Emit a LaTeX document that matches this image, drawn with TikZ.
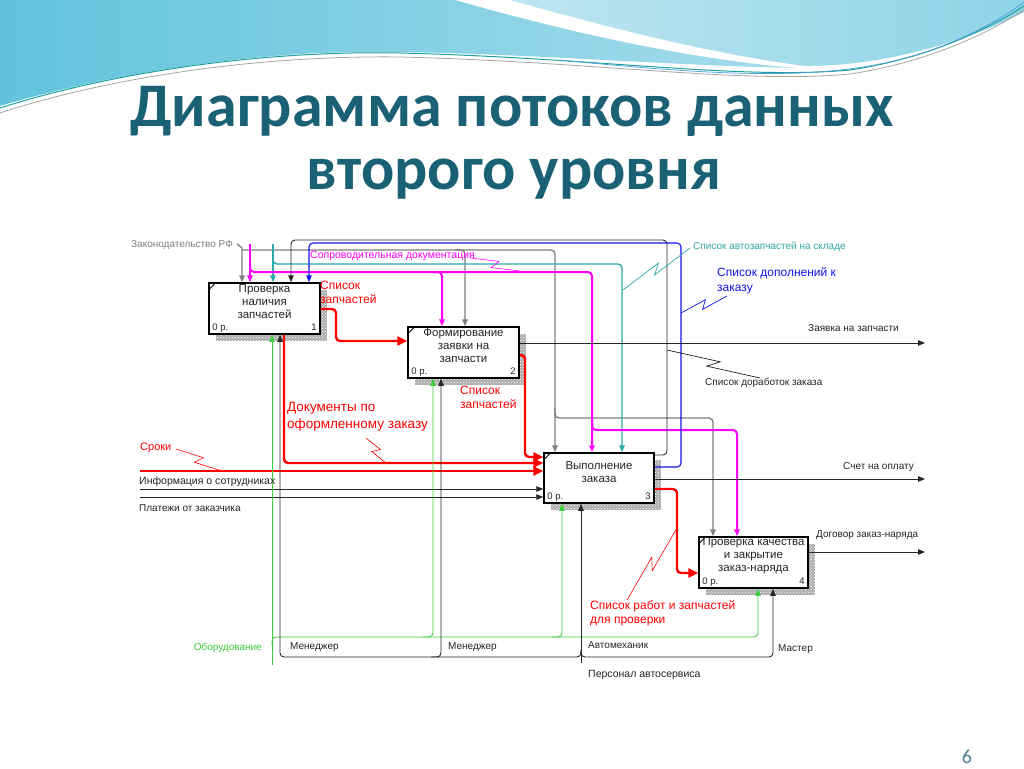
\documentclass[tikz,border=0pt]{standalone}
\usepackage{fontspec}
\setmainfont{Liberation Sans}
\newfontfamily\ttlfont{Carlito}
\usetikzlibrary{arrows.meta,calc,patterns}
\definecolor{ttl}{HTML}{1B6175}
\definecolor{mg}{HTML}{FF00FF}
\definecolor{tl}{HTML}{2FA8A8}
\definecolor{bl}{HTML}{1414E6}
\definecolor{rd}{HTML}{FF0000}
\definecolor{gr}{HTML}{3FCC3F}
\definecolor{gy}{HTML}{7F7F7F}
\definecolor{wvA}{HTML}{62C3DC}
\definecolor{wvB}{HTML}{A6DCEB}
\definecolor{wvC}{HTML}{BFE6F0}
\definecolor{wvD}{HTML}{8ED3E6}
\definecolor{wline}{HTML}{1FA39A}
\newcommand\zzl[3]{\draw[#1] (#2) -- ($(#2)!0.56!(#3)!4pt!90:(#3)$) -- ($(#2)!0.44!(#3)!4pt!-90:(#3)$) -- (#3);}
\tikzset{
  arw/.style={-{Triangle[length=7pt,width=5.5pt]}},
  rarw/.style={-{Triangle[length=10pt,width=9pt]}},
  rc/.style={rounded corners=4pt},
  redl/.style={draw=rd, line width=2.4pt},
  mgl/.style={draw=mg, line width=2pt},
  gyl/.style={draw=gy, line width=1.4pt},
  tll/.style={draw=tl, line width=1.4pt},
  bll/.style={draw=bl, line width=1.1pt},
  grl/.style={draw=gr, line width=0.9pt},
  bkl/.style={draw=black!85, line width=0.9pt},
  box/.style={draw=black, line width=1.5pt, fill=white, inner sep=0, minimum width=#1},
  btxt/.style={align=center, font=\fontsize{11.5}{13}\selectfont, inner sep=0, text=black!85},
  idx/.style={font=\fontsize{9.5}{11}\selectfont, inner sep=0, text=black!85},
  lbl/.style={font=\fontsize{10}{12}\selectfont, inner sep=0, anchor=west, text=black!85},
  rlbl/.style={font=\fontsize{12}{14}\selectfont, inner sep=0, anchor=north west, align=left, text=rd},
  shd/.style={pattern=crosshatch dots, pattern color=white},
}
\begin{document}
\begin{tikzpicture}[x=1pt,y=-1pt]
\useasboundingbox (0,0) rectangle (1024,768);
\fill[white] (0,0) rectangle (1024,768);
% ---- waves
\shade[left color=wvA, right color=wvB] (0,0) -- (455,0) .. controls (560,30) and (680,58) .. (795,68)
  .. controls (620,64) and (440,46) .. (300,54) .. controls (180,62) and (70,85) .. (0,106) -- cycle;
\shade[left color=wvC, right color=wvD] (510,0) -- (1024,0) -- (1024,12) .. controls (965,42) and (885,66) .. (805,66)
  .. controls (700,52) and (600,25) .. (510,0) -- cycle;
\draw[wline, line width=1pt] (0,108) .. controls (100,76) and (250,50) .. (400,53) .. controls (600,58) and (740,80) .. (850,70) .. controls (930,58) and (990,28) .. (1024,6);
\draw[gray!70, line width=0.8pt] (0,113) .. controls (100,80) and (250,55) .. (400,57) .. controls (600,62) and (740,84) .. (850,74) .. controls (930,62) and (990,32) .. (1024,10);
\draw[wvA!80!blue, line width=0.7pt] (560,60) .. controls (700,74) and (800,80) .. (880,64) .. controls (950,50) and (1000,20) .. (1024,2);
% ---- title
\node[anchor=base, text=ttl, font=\ttlfont\bfseries\fontsize{62}{70}\selectfont] (title1) at (512,126) {Диаграмма потоков данных};
\node[anchor=base, text=ttl, font=\ttlfont\bfseries\fontsize{62}{70}\selectfont] (title2) at (514,189) {второго уровня};
\node[text=ttl!80, font=\ttlfont\fontsize{20}{22}\selectfont, inner sep=0] (pnum) at (967,757) {6};
% ---- shadows
\foreach \sx/\sy/\ex/\ey in {216/290/327/341, 415/334/526/385, 551/460/661/510, 706/544/815/595}{
  \fill[gray!65] (\sx,\sy) rectangle (\ex,\ey);
  \fill[shd] (\sx,\sy) rectangle (\ex,\ey);
}
% ---- boxes
\node[box=111pt, minimum height=51pt] (b1) at (264.5,308.5) {};
\node[box=111pt, minimum height=51pt] (b2) at (463.5,352.5) {};
\node[box=110pt, minimum height=50pt] (b3) at (599,478) {};
\node[box=109pt, minimum height=51pt] (b4) at (753.5,562.5) {};
\foreach \b in {b1,b2,b3,b4}{
  \draw[line width=0.8pt] ($(\b.north west)+(1,7)$) -- ($(\b.north west)+(7,1)$);
}
\node[btxt] (t1) at (264.5,302) {Проверка\\наличия\\запчастей};
\node[btxt] (t2) at (463.5,346) {Формирование\\заявки на\\запчасти};
\node[btxt] (t3) at (599,472) {Выполнение\\заказа};
\node[btxt] (t4) at (753.5,556) {Проверка качества\\и закрытие\\заказ-наряда};
\node[idx, anchor=base west] (p1) at ($(b1.south west)+(4,-4)$) {0 р.};
\node[idx, anchor=base east] (n1) at ($(b1.south east)+(-4,-4)$) {1};
\node[idx, anchor=base west] (p2) at ($(b2.south west)+(4,-4)$) {0 р.};
\node[idx, anchor=base east] (n2) at ($(b2.south east)+(-4,-4)$) {2};
\node[idx, anchor=base west] (p3) at ($(b3.south west)+(4,-4)$) {0 р.};
\node[idx, anchor=base east] (n3) at ($(b3.south east)+(-4,-4)$) {3};
\node[idx, anchor=base west] (p4) at ($(b4.south west)+(4,-4)$) {0 р.};
\node[idx, anchor=base east] (n4) at ($(b4.south east)+(-4,-4)$) {4};
% ---- coordinates
\coordinate (g0) at (237,244); \coordinate (g1) at (242,248); \coordinate (g2) at (242,250);
\coordinate (g3a) at (455,250); \coordinate (g3) at (465,250); \coordinate (g4) at (555,250);
\coordinate (g5a) at (555,408); \coordinate (g5) at (555,418); \coordinate (g6) at (713,418);
\coordinate (m0) at (250,244); \coordinate (m1a) at (250,262); \coordinate (m1) at (250,272);
\coordinate (m2) at (592,272); \coordinate (m3a) at (432,272); \coordinate (m3) at (442,272);
\coordinate (m4a) at (592,420); \coordinate (m4) at (592,430); \coordinate (m5) at (737,430);
\coordinate (c0) at (273,244); \coordinate (c1a) at (273,254); \coordinate (c1) at (273,264); \coordinate (c2) at (622,264);
\coordinate (k1) at (667,455); \coordinate (k2) at (667,240); \coordinate (k3) at (291,240);
\coordinate (u1) at (681,467); \coordinate (u2) at (681,243); \coordinate (u3) at (309,243);
\coordinate (r1a) at (336,309); \coordinate (r1b) at (336,341);
\coordinate (r2a) at (525,355); \coordinate (r2b) at (525,457);
\coordinate (r3) at (284,463);
\coordinate (s0) at (140,471); \coordinate (i0) at (140,489); \coordinate (q0) at (140,497);
\coordinate (o2) at (925,343); \coordinate (o3) at (925,479); \coordinate (o4) at (925,552);
\coordinate (r5a) at (677,489); \coordinate (r5b) at (677,573);
\coordinate (e0) at (272,665); \coordinate (e1a) at (272,645); \coordinate (e1) at (272,637);
\coordinate (e2a) at (423,637); \coordinate (e2) at (433,637); \coordinate (e3a) at (552,637); \coordinate (e3) at (562,637);
\coordinate (e4) at (758,637);
\coordinate (h0) at (581,663); \coordinate (h1a) at (581,650); \coordinate (h1) at (581,657);
\coordinate (h2) at (280,657); \coordinate (h3a) at (431,657); \coordinate (h3) at (441,657); \coordinate (h4) at (773,657);
% ---- gray (Законодательство РФ)
\draw[gyl,arw] (g0) -- (g1) -- (g1 |- b1.north);
\draw[gyl,arw,rc] (g2) -- (g4) -- (g4 |- b3.north);
\draw[gyl,arw,rc] (g3a) -- (g3) -- (g3 |- b2.north);
\draw[gyl,arw,rc] (g5a) -- (g5) -- (g6) -- (g6 |- b4.north);
% ---- teal
\draw[tll,arw] (c0) -- (c0 |- b1.north);
\draw[tll,arw,rc] (c1a) -- (c1) -- (c2) -- (c2 |- b3.north);
% ---- magenta
\draw[mgl,arw] (m0) -- (m0 |- b1.north);
\draw[mgl,arw,rc] (m1a) -- (m1) -- (m2) -- (m2 |- b3.north);
\draw[mgl,arw,rc] (m3a) -- (m3) -- (m3 |- b2.north);
\draw[mgl,arw,rc] (m4a) -- (m4) -- (m5) -- (m5 |- b4.north);
% ---- black loop and blue loop
\draw[bkl,arw,rc] (k1 -| b3.east) -- (k1) -- (k2) -- (k3) -- (k3 |- b1.north);
\draw[bll,arw,rc] (u1 -| b3.east) -- (u1) -- (u2) -- (u3) -- (u3 |- b1.north);
% ---- red flows
\draw[redl,rarw,rc] (r1a -| b1.east) -- (r1a) -- (r1b) -- (r1b -| b2.west);
\draw[redl,rarw,rc] (r2a -| b2.east) -- (r2a) -- (r2b) -- (r2b -| b3.west);
\draw[redl,rarw,rc] (r3 |- b1.south) -- (r3) -- (r3 -| b3.west);
\draw[redl,rarw] (s0) -- (s0 -| b3.west);
\draw[redl,rarw,rc] (r5a -| b3.east) -- (r5a) -- (r5b) -- (r5b -| b4.west);
% ---- black inputs / outputs
\draw[bkl,arw] (i0) -- (i0 -| b3.west);
\draw[bkl,arw] (q0) -- (q0 -| b3.west);
\draw[bkl,arw] (o2 -| b2.east) -- (o2);
\draw[bkl,arw] (o3 -| b3.east) -- (o3);
\draw[bkl,arw] (o4 -| b4.east) -- (o4);
% ---- green mechanism
\draw[grl,arw] (e0) -- (e0 |- b1.south);
\draw[grl,arw,rc] (e1a) -- (e1) -- (e4) -- (e4 |- b4.south);
\draw[grl,arw,rc] (e2a) -- (e2) -- (e2 |- b2.south);
\draw[grl,arw,rc] (e3a) -- (e3) -- (e3 |- b3.south);
% ---- black mechanism
\draw[bkl,arw] (h0) -- (h0 |- b3.south);
\draw[bkl,arw,rc] (h1a) -- (h1) -- (h2) -- (h2 |- b1.south);
\draw[bkl,arw,rc] (h3a) -- (h3) -- (h3 |- b2.south);
\draw[bkl,arw,rc] (h1a) -- (h1) -- (h4) -- (h4 |- b4.south);
% ---- labels
\node[lbl, text=gy] (lzak) at (131,245) {Законодательство РФ};
\node[lbl, text=mg, font=\fontsize{10.5}{12}\selectfont] (lsop) at (310,256) {Сопроводительная документация};
\node[lbl, text=tl] (lavt) at (693,247) {Список автозапчастей на складе};
\node[lbl, text=bl, font=\fontsize{12}{15}\selectfont, anchor=north west, align=left] (ldop) at (717,267) {Список дополнений к\\заказу};
\node[lbl] (lzay) at (808,328) {Заявка на запчасти};
\node[lbl] (ldor) at (705,383) {Список доработок заказа};
\node[lbl] (lsch) at (843,467) {Счет на оплату};
\node[lbl] (ldog) at (816,535) {Договор заказ-наряда};
\node[lbl, text=rd, font=\fontsize{11}{13}\selectfont] (lsro) at (140,448) {Сроки};
\node[lbl, font=\fontsize{10.5}{12}\selectfont] (linf) at (139,482) {Информация о сотрудниках};
\node[lbl] (lpla) at (139,508) {Платежи от заказчика};
\node[rlbl, font=\fontsize{13.5}{17}\selectfont] (ldoc) at (287,402) {Документы по\\оформленному заказу};
\node[rlbl] (lsz1) at (320,281) {Список\\запчастей};
\node[rlbl] (lsz2) at (460,386) {Список\\запчастей};
\node[rlbl] (lrab) at (590,600) {Список работ и запчастей\\для проверки};
\node[lbl, text=gr, anchor=east] (lobo) at (262,648) {Оборудование};
\node[lbl] (lmen1) at (290,647) {Менеджер};
\node[lbl] (lmen2) at (448,647) {Менеджер};
\node[lbl] (lavm) at (588,645) {Автомеханик};
\node[lbl] (lmas) at (778,649) {Мастер};
\node[lbl, font=\fontsize{10.5}{12}\selectfont] (lper) at (588,675) {Персонал автосервиса};
% ---- squiggles
\coordinate (z1a) at (176,449); \coordinate (z1b) at (222,471);
\coordinate (z2a) at (366,438); \coordinate (z2b) at (386,463);
\coordinate (z3a) at (470,258); \coordinate (z3b) at (520,271);
\coordinate (z4a) at (623,290); \coordinate (z4b) at (690,248);
\coordinate (z5a) at (681,313); \coordinate (z5b) at (727,296);
\coordinate (z6a) at (667,350); \coordinate (z6b) at (760,378);
\coordinate (z7a) at (627,600); \coordinate (z7b) at (677,528);
\zzl{rd, line width=0.6pt}{z1a}{z1b}
\zzl{rd, line width=0.6pt}{z2a}{z2b}
\zzl{mg, line width=0.6pt}{z3a}{z3b}
\zzl{tl, line width=0.7pt}{z4a}{z4b}
\zzl{bl, line width=0.7pt}{z5a}{z5b}
\zzl{black, line width=0.6pt}{z6a}{z6b}
\zzl{rd, line width=0.6pt}{z7a}{z7b}
\end{tikzpicture}
\end{document}
